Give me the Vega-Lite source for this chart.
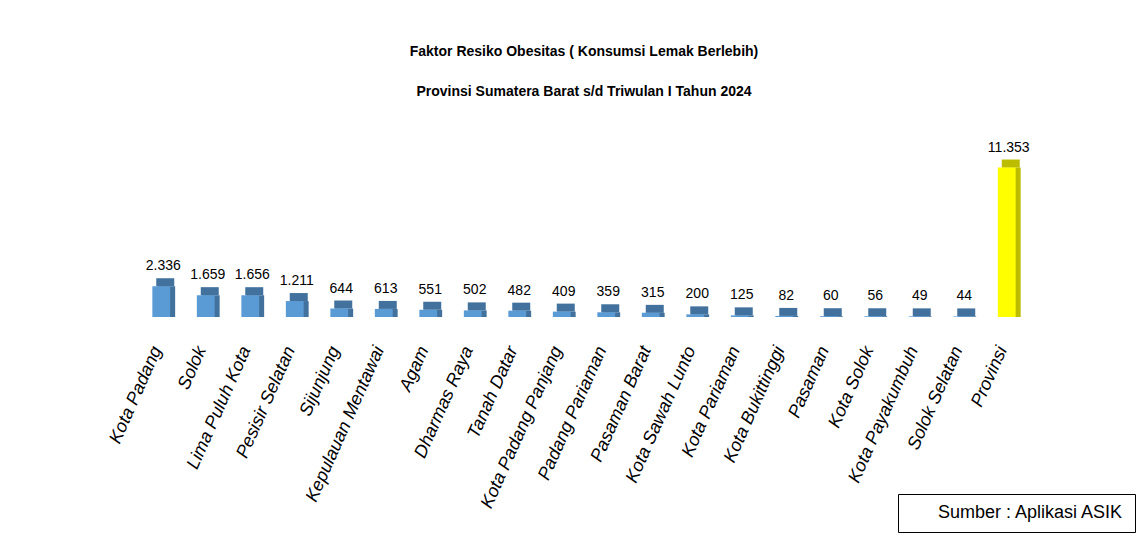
{
  "$schema": "https://vega.github.io/schema/vega-lite/v6.json",
  "autosize": {"type": "none"},
  "width": 890,
  "height": 158,
  "padding": {"left": 139, "top": 159, "right": 108, "bottom": 223},
  "background": "white",
  "config": {
    "view": {"stroke": null},
    "locale": {"number": {"decimal": ",", "thousands": ".", "grouping": [3], "currency": ["Rp", ""]}}
  },
  "title": {
    "text": ["Faktor Resiko Obesitas ( Konsumsi Lemak Berlebih)", "Provinsi Sumatera Barat s/d Triwulan I Tahun 2024"],
    "font": "Liberation Sans",
    "fontSize": 14,
    "fontWeight": "bold",
    "color": "#000000",
    "lineHeight": 40,
    "anchor": "middle",
    "offset": 42
  },
  "data": {
    "values": [
      {"wilayah": "Kota Padang", "jumlah": 2336, "grup": "Kab"},
      {"wilayah": "Solok", "jumlah": 1659, "grup": "Kab"},
      {"wilayah": "Lima Puluh Kota", "jumlah": 1656, "grup": "Kab"},
      {"wilayah": "Pesisir Selatan", "jumlah": 1211, "grup": "Kab"},
      {"wilayah": "Sijunjung", "jumlah": 644, "grup": "Kab"},
      {"wilayah": "Kepulauan Mentawai", "jumlah": 613, "grup": "Kab"},
      {"wilayah": "Agam", "jumlah": 551, "grup": "Kab"},
      {"wilayah": "Dharmas Raya", "jumlah": 502, "grup": "Kab"},
      {"wilayah": "Tanah Datar", "jumlah": 482, "grup": "Kab"},
      {"wilayah": "Kota Padang Panjang", "jumlah": 409, "grup": "Kab"},
      {"wilayah": "Padang Pariaman", "jumlah": 359, "grup": "Kab"},
      {"wilayah": "Pasaman Barat", "jumlah": 315, "grup": "Kab"},
      {"wilayah": "Kota Sawah Lunto", "jumlah": 200, "grup": "Kab"},
      {"wilayah": "Kota Pariaman", "jumlah": 125, "grup": "Kab"},
      {"wilayah": "Kota Bukittinggi", "jumlah": 82, "grup": "Kab"},
      {"wilayah": "Pasaman", "jumlah": 60, "grup": "Kab"},
      {"wilayah": "Kota Solok", "jumlah": 56, "grup": "Kab"},
      {"wilayah": "Kota Payakumbuh", "jumlah": 49, "grup": "Kab"},
      {"wilayah": "Solok Selatan", "jumlah": 44, "grup": "Kab"},
      {"wilayah": "Provinsi", "jumlah": 11353, "grup": "Provinsi"}
    ]
  },
  "encoding": {
    "x": {
      "field": "wilayah",
      "type": "nominal",
      "sort": null,
      "scale": {"paddingInner": 0.6, "paddingOuter": 0.3},
      "axis": {
        "title": null,
        "domain": false,
        "ticks": false,
        "labelAngle": -66,
        "labelFont": "Liberation Sans",
        "labelFontStyle": "italic",
        "labelFontSize": 18,
        "labelColor": "#000000",
        "labelPadding": 30,
        "labelOffset": -4,
        "labelLimit": 300
      }
    },
    "y": {
      "field": "jumlah",
      "type": "quantitative",
      "scale": {"domain": [0, 12000]},
      "axis": null
    }
  },
  "layer": [
    {
      "mark": {"type": "bar", "xOffset": 5},
      "encoding": {
        "color": {
          "field": "grup",
          "type": "nominal",
          "scale": {"domain": ["Kab", "Provinsi"], "range": ["#41719c", "#bcbc00"]},
          "legend": {
            "values": ["Provinsi"],
            "labelExpr": "'Sumber : Aplikasi ASIK'",
            "title": null,
            "orient": "none",
            "legendX": 759,
            "legendY": 335,
            "symbolSize": 0,
            "symbolOpacity": 0,
            "symbolStrokeWidth": 0,
            "labelOffset": 12,
            "labelFont": "Liberation Sans",
            "labelFontSize": 18,
            "labelColor": "#000000",
            "labelLimit": 400,
            "strokeColor": "#000000",
            "padding": 10
          }
        }
      }
    },
    {
      "mark": {"type": "tick", "orient": "horizontal", "xOffset": 4, "yOffset": -4, "thickness": 8, "size": 18, "opacity": 1},
      "encoding": {
        "color": {
          "field": "grup",
          "type": "nominal",
          "scale": {"domain": ["Kab", "Provinsi"], "range": ["#41719c", "#bcbc00"]},
          "legend": null
        }
      }
    },
    {
      "mark": {"type": "bar"},
      "encoding": {
        "color": {
          "field": "grup",
          "type": "nominal",
          "scale": {"domain": ["Kab", "Provinsi"], "range": ["#5b9bd5", "#ffff00"]},
          "legend": null
        }
      }
    },
    {
      "mark": {
        "type": "text",
        "baseline": "alphabetic",
        "dy": -16,
        "dx": 2,
        "font": "Liberation Sans",
        "fontSize": 14,
        "color": "#000000"
      },
      "encoding": {
        "text": {"field": "jumlah", "type": "quantitative", "format": ",d"}
      }
    }
  ],
  "resolve": {"scale": {"color": "independent"}}
}
